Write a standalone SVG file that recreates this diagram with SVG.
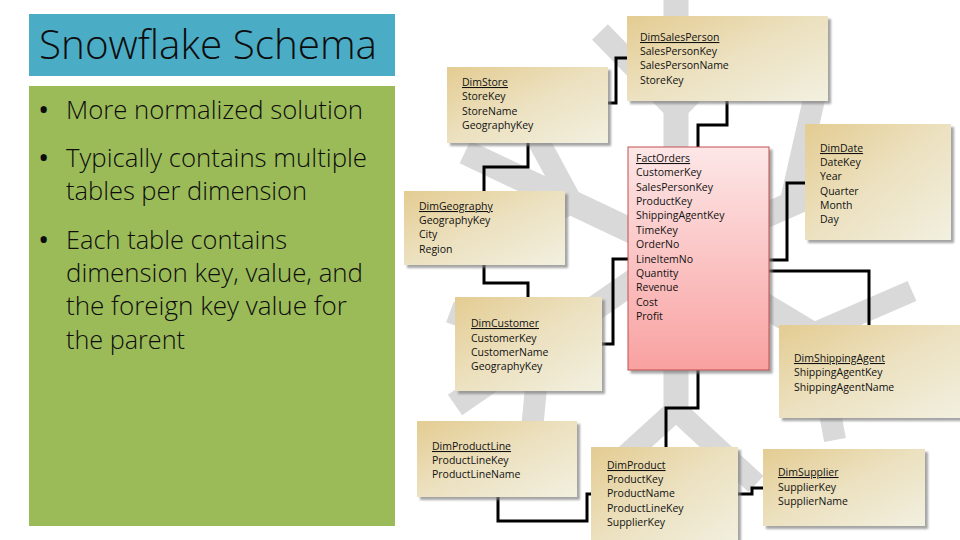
<svg xmlns="http://www.w3.org/2000/svg" width="960" height="540" viewBox="0 0 960 540">
<defs>
<linearGradient id="beige" x1="0" y1="0" x2="1" y2="1">
<stop offset="0" stop-color="#e4cc92"/>
<stop offset="0.5" stop-color="#ece1c0"/>
<stop offset="1" stop-color="#f2f0e0"/>
</linearGradient>
<linearGradient id="pink" x1="0" y1="0" x2="0" y2="1">
<stop offset="0" stop-color="#fde7e7"/>
<stop offset="1" stop-color="#f9a1a1"/>
</linearGradient>
<filter id="shadow" x="-5%" y="-5%" width="115%" height="115%">
<feDropShadow dx="3" dy="3" stdDeviation="0.8" flood-color="#7f7f7f" flood-opacity="0.7"/>
</filter>
<style>
.flake{stroke:#d9d9d9;stroke-width:25;fill:none;stroke-linecap:butt;stroke-linejoin:bevel}
.br{stroke-width:22}
.box{fill:url(#beige);filter:url(#shadow)}
.fact{fill:url(#pink);stroke:#c0504d;stroke-width:1;filter:url(#shadow)}
.t{font-family:"Open Sans","Noto Sans","DejaVu Sans",sans-serif;font-size:10.5px;fill:#111}
.h{text-decoration:underline}
.conn{fill:none;stroke:#000;stroke-width:3;stroke-linejoin:miter}
.big{font-family:"Open Sans","Noto Sans",sans-serif;font-weight:300;fill:#0d0d0d}
.bul{font-size:25px}
.dot{font-family:"Open Sans","Noto Sans",sans-serif;font-size:30px;fill:#0d0d0d}
</style>
</defs>
<rect width="960" height="540" fill="#ffffff"/>

<g id="title-panel">
<rect x="29" y="14" width="366" height="62" fill="#4bacc6"/>
<text class="big" x="39" y="59" font-size="40" textLength="338" lengthAdjust="spacingAndGlyphs">Snowflake Schema</text>
</g>

<g id="bullet-panel">
<rect x="29" y="86" width="366" height="440" fill="#9bbb59"/>
<text class="dot" x="38" y="120">•</text>
<text class="dot" x="38" y="168">•</text>
<text class="dot" x="38" y="250">•</text>
<g class="big bul">
<text x="66" y="119" textLength="297" lengthAdjust="spacingAndGlyphs">More normalized solution</text>
<text x="66" y="167" textLength="301" lengthAdjust="spacingAndGlyphs">Typically contains multiple</text>
<text x="66" y="200" textLength="241" lengthAdjust="spacingAndGlyphs">tables per dimension</text>
<text x="66" y="249" textLength="221" lengthAdjust="spacingAndGlyphs">Each table contains</text>
<text x="66" y="282" textLength="297" lengthAdjust="spacingAndGlyphs">dimension key, value, and</text>
<text x="66" y="315" textLength="281" lengthAdjust="spacingAndGlyphs">the foreign key value for</text>
<text x="66" y="349" textLength="119" lengthAdjust="spacingAndGlyphs">the parent</text>
</g>
</g>

<g id="snowflake">
<line class="flake" x1="676" y1="-5" x2="676" y2="415"/>
<polyline class="flake br" points="600,32 676,110 752,32"/>
<polyline class="flake br" points="610,470 676,410 756,484"/>
<line class="flake" x1="676" y1="252" x2="465" y2="152"/>
<polyline class="flake br" points="530,125 572,203 470,250"/>
<line class="flake" x1="676" y1="255" x2="880" y2="165"/>
<line class="flake br" x1="790" y1="205" x2="815" y2="95"/>
<line class="flake" x1="676" y1="252" x2="455" y2="405"/>
<polyline class="flake br" points="450,312 540,345 532,430"/>
<line class="flake" x1="676" y1="252" x2="880" y2="375"/>
<polyline class="flake br" points="912,291 815,333 835,440"/>
</g>

<g id="connectors">
<path class="conn" d="M606,103 H616 V58 H629"/>
<path class="conn" d="M727,100 V125 H698 V149"/>
<path class="conn" d="M528,141 V167 H484 V193"/>
<path class="conn" d="M484,263 V283 H528 V299"/>
<path class="conn" d="M630,259 H613 V344 H600"/>
<path class="conn" d="M767,260 H787 V183 H807"/>
<path class="conn" d="M767,271 H869 V327"/>
<path class="conn" d="M698,368 V408 H666 V449"/>
<path class="conn" d="M498,495 V521 H587 V494 H593"/>
<path class="conn" d="M736,494 H752 V488 H765"/>
</g>

<g id="DimSalesPerson">
<rect class="box" x="627" y="16" width="201" height="85"/>
<text class="t" x="640" y="41"><tspan class="h">DimSalesPerson</tspan><tspan x="640" y="55">SalesPersonKey</tspan><tspan x="640" y="69">SalesPersonName</tspan><tspan x="640" y="84">StoreKey</tspan></text>
</g>

<g id="DimStore">
<rect class="box" x="447" y="67" width="161" height="76"/>
<text class="t" x="462" y="86"><tspan class="h">DimStore</tspan><tspan x="462" y="100">StoreKey</tspan><tspan x="462" y="115">StoreName</tspan><tspan x="462" y="129">GeographyKey</tspan></text>
</g>

<g id="DimGeography">
<rect class="box" x="404" y="191" width="161" height="74"/>
<text class="t" x="419" y="210"><tspan class="h">DimGeography</tspan><tspan x="419" y="224">GeographyKey</tspan><tspan x="419" y="238">City</tspan><tspan x="419" y="253">Region</tspan></text>
</g>

<g id="DimCustomer">
<rect class="box" x="455" y="297" width="147" height="94"/>
<text class="t" x="471" y="327"><tspan class="h">DimCustomer</tspan><tspan x="471" y="342">CustomerKey</tspan><tspan x="471" y="356">CustomerName</tspan><tspan x="471" y="370">GeographyKey</tspan></text>
</g>

<g id="FactOrders">
<rect class="fact" x="628" y="147" width="141" height="223"/>
<text class="t" x="636" y="162"><tspan class="h">FactOrders</tspan><tspan x="636" y="176.4">CustomerKey</tspan><tspan x="636" y="190.7">SalesPersonKey</tspan><tspan x="636" y="205.1">ProductKey</tspan><tspan x="636" y="219.4">ShippingAgentKey</tspan><tspan x="636" y="233.8">TimeKey</tspan><tspan x="636" y="248.2">OrderNo</tspan><tspan x="636" y="262.5">LineItemNo</tspan><tspan x="636" y="276.9">Quantity</tspan><tspan x="636" y="291.2">Revenue</tspan><tspan x="636" y="305.6">Cost</tspan><tspan x="636" y="320">Profit</tspan></text>
</g>

<g id="DimDate">
<rect class="box" x="805" y="124" width="146" height="116"/>
<text class="t" x="820" y="152"><tspan class="h">DimDate</tspan><tspan x="820" y="166">DateKey</tspan><tspan x="820" y="180">Year</tspan><tspan x="820" y="195">Quarter</tspan><tspan x="820" y="209">Month</tspan><tspan x="820" y="223">Day</tspan></text>
</g>

<g id="DimShippingAgent">
<rect class="box" x="779" y="325" width="185" height="93"/>
<text class="t" x="794" y="362"><tspan class="h">DimShippingAgent</tspan><tspan x="794" y="376">ShippingAgentKey</tspan><tspan x="794" y="391">ShippingAgentName</tspan></text>
</g>

<g id="DimProductLine">
<rect class="box" x="417" y="421" width="160" height="76"/>
<text class="t" x="432" y="450"><tspan class="h">DimProductLine</tspan><tspan x="432" y="464">ProductLineKey</tspan><tspan x="432" y="478">ProductLineName</tspan></text>
</g>

<g id="DimProduct">
<rect class="box" x="591" y="447" width="147" height="100"/>
<text class="t" x="607" y="469"><tspan class="h">DimProduct</tspan><tspan x="607" y="483">ProductKey</tspan><tspan x="607" y="497">ProductName</tspan><tspan x="607" y="512">ProductLineKey</tspan><tspan x="607" y="526">SupplierKey</tspan></text>
</g>

<g id="DimSupplier">
<rect class="box" x="763" y="449" width="162" height="77"/>
<text class="t" x="778" y="476"><tspan class="h">DimSupplier</tspan><tspan x="778" y="491">SupplierKey</tspan><tspan x="778" y="505">SupplierName</tspan></text>
</g>
</svg>
